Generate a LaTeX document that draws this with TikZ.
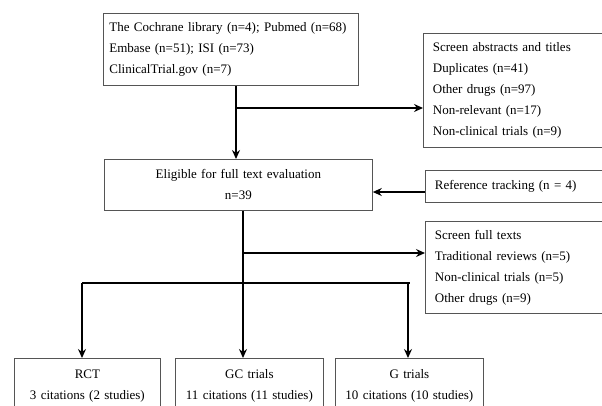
\documentclass[tikz,border=0pt]{standalone}
\usepackage{fontspec}
\setmainfont{Liberation Serif}
\usepackage{tikz}
\usetikzlibrary{arrows.meta}
\definecolor{boxgray}{RGB}{85,85,85}

\begin{document}
\begin{tikzpicture}[
            x = 1pt, y = -1pt, % pixel like coordinates
            > = {Stealth[length=9pt,width=8pt,inset=3pt]}, % arrow head style
            line width = 1.6pt, % line style
            box/.style = {draw=boxgray, line width=0.8pt, rectangle, anchor=north west,
                          font=\fontsize{13}{21}\selectfont, inner xsep=9.5pt, inner ysep=0pt},
            leftbox/.style = {box, align=left},
            midbox/.style = {box, align=center}
        ]
\useasboundingbox (0,0) rectangle (602,405);
\clip (0,0) rectangle (602,405);

\node[leftbox, text width=243pt, inner xsep=6pt, minimum height=72pt] (src) at (103,13)
    {The Cochrane library (n=4); Pubmed (n=68)\\Embase (n=51); ISI (n=73)\\ClinicalTrial.gov (n=7)};
\node[leftbox, text width=200pt, minimum height=114pt] (scra) at (423,33)
    {Screen abstracts and titles\\Duplicates (n=41)\\Other drugs (n=97)\\Non-relevant (n=17)\\Non-clinical trials (n=9)};
\node[midbox, text width=249pt, minimum height=51pt] (elig) at (104,159)
    {Eligible for full text evaluation\\n=39};
\node[leftbox, text width=200pt, minimum height=32pt] (ref) at (425,170)
    {Reference tracking (n = 4)};
\node[leftbox, text width=200pt, minimum height=92pt] (scrf) at (425,221)
    {Screen full texts\\Traditional reviews (n=5)\\Non-clinical trials (n=5)\\Other drugs (n=9)};

\node[midbox, text width=127pt, minimum height=55pt] (rct) at (14,358)
    {RCT\\3 citations (2 studies)};
\node[midbox, text width=129pt, minimum height=55pt] (gc) at (175,358)
    {GC trials\\11 citations (11 studies)};
\node[midbox, text width=129pt, minimum height=55pt] (g) at (335,358)
    {G trials\\10 citations (10 studies)};

% junctions
\coordinate (j1) at (236,108);
\coordinate (j2) at (243,253);
\coordinate (j3) at (243,283);
\coordinate (j4) at (425,192);
\coordinate (bl) at (82,283);
\coordinate (br) at (408,283);

 \draw (src.south -| j1) -- (j1);
 \path [->] (j1) edge (j1 |- elig.north);
 \path [->] (j1) edge (j1 -| scra.west);
 \path [->] (j4) edge (j4 -| elig.east);

 \draw (elig.south -| j2) -- (j3);
 \path [->] (j2) edge (j2 -| scrf.west);
 \draw (bl) -- ([xshift=2pt]br);
 \path [->] (bl) edge (bl |- rct.north);
 \path [->] (j3) edge (j3 |- gc.north);
 \path [->] (br) edge (br |- g.north);
\end{tikzpicture}
\end{document}
